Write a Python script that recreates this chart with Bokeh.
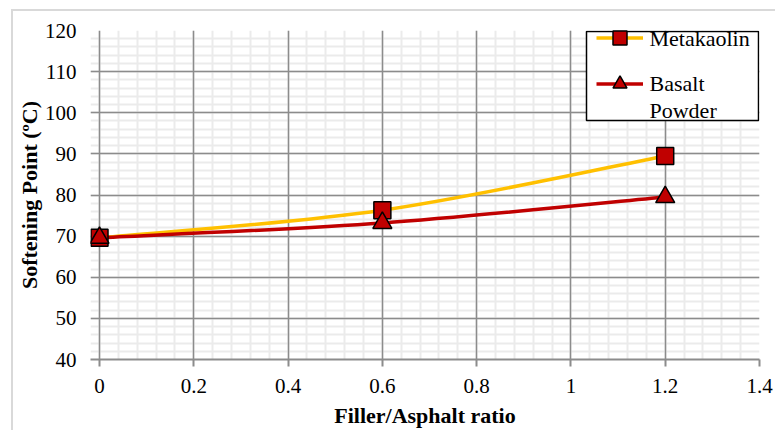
from bokeh.plotting import figure
from bokeh.models import (FixedTicker, Legend, LegendItem, Grid, Label, BoxAnnotation,
                          ColumnDataSource, Range1d)
from bokeh.embed import file_html
from bokeh.resources import INLINE

x_ratio = [0.0, 0.6, 1.2]
metakaolin = [69.6, 76.3, 89.5]
basalt = [69.6, 73.2, 79.5]
x_ticks = [0, 0.2, 0.4, 0.6, 0.8, 1.0, 1.2, 1.4]
y_ticks = [40, 50, 60, 70, 80, 90, 100, 110, 120]
series_labels = ["Metakaolin", "Basalt\nPowder"]

FONT = "'Liberation Serif'"
LABEL_FONT = "Liberation Serif"
YELLOW = "#FFC000"
RED = "#C00000"
GRID = "#8c8c8c"

x_minor = [round(i * 0.04, 2) for i in range(36)]
y_minor = [40 + 2 * i for i in range(41)]

p = figure(width=775, height=430, output_backend="svg", toolbar_location=None,
           x_range=Range1d(-0.0191, 1.4), y_range=Range1d(40, 120),
           min_border_left=90, min_border_right=16, min_border_top=30, min_border_bottom=68)
p.outline_line_color = None
p.background_fill_color = "white"
p.border_fill_color = "white"
p.border_fill_alpha = 0
p.styles = {
    "background-color": "white",
    "background-image": "linear-gradient(#d9d9d9, #d9d9d9), linear-gradient(#d9d9d9, #d9d9d9)",
    "background-size": "100% 2px, 2px 100%",
    "background-position": "12px 9px, 11px 9px",
    "background-repeat": "no-repeat",
}

xt = FixedTicker(ticks=x_ticks, minor_ticks=x_minor)
yt = FixedTicker(ticks=y_ticks, minor_ticks=y_minor)
p.xaxis.ticker = xt
p.yaxis.ticker = yt
p.xaxis.major_label_overrides = {0: "0", 1: "1"}

mx = Grid(dimension=0, ticker=xt, grid_line_color=None,
          minor_grid_line_color="#ebebeb", minor_grid_line_width=2)
my = Grid(dimension=1, ticker=yt, grid_line_color=None,
          minor_grid_line_color="#ebebeb", minor_grid_line_width=2)
for g in (p.xgrid, p.ygrid):
    g.grid_line_color = GRID
    g.grid_line_width = 1.5
    g.minor_grid_line_color = None
p.xgrid.ticker = xt
p.ygrid.ticker = yt
p.center = [mx, my] + list(p.center)

for ax in (p.xaxis, p.yaxis):
    ax.axis_line_color = GRID
    ax.axis_line_width = 2
    ax.major_tick_line_color = GRID
    ax.major_tick_line_width = 2
    ax.major_tick_in = 0
    ax.major_tick_out = 7
    ax.minor_tick_line_color = None
    ax.major_label_text_font = FONT
    ax.major_label_text_font_size = "21px"
    ax.major_label_text_color = "black"
    ax.axis_label_text_font = FONT
    ax.axis_label_text_font_size = "22px"
    ax.axis_label_text_font_style = "bold"
    ax.axis_label_text_color = "black"

p.yaxis.axis_line_color = None
p.yaxis.major_tick_line_color = None
p.yaxis.major_tick_out = 0
p.yaxis.major_label_standoff = 10
p.yaxis.axis_label_standoff = 0
p.xaxis.major_label_standoff = 12
p.xaxis.axis_label_standoff = 7
p.xaxis.axis_label = "Filler/Asphalt ratio"
p.yaxis.axis_label = "Softening Point (ºC)"


def smooth(xs, ys):
    n = len(xs)
    x0, y0, x1, y1, cx0, cy0, cx1, cy1 = [], [], [], [], [], [], [], []
    for i in range(n - 1):
        pxm = xs[max(i - 1, 0)]; pym = ys[max(i - 1, 0)]
        pxp = xs[min(i + 2, n - 1)]; pyp = ys[min(i + 2, n - 1)]
        x0.append(xs[i]); y0.append(ys[i]); x1.append(xs[i + 1]); y1.append(ys[i + 1])
        cx0.append(xs[i] + (xs[i + 1] - pxm) / 6); cy0.append(ys[i] + (ys[i + 1] - pym) / 6)
        cx1.append(xs[i + 1] - (pxp - xs[i]) / 6); cy1.append(ys[i + 1] - (pyp - ys[i]) / 6)
    return dict(x0=x0, y0=y0, x1=x1, y1=y1, cx0=cx0, cy0=cy0, cx1=cx1, cy1=cy1)


cm = p.bezier(source=ColumnDataSource(smooth(x_ratio, metakaolin)), x0="x0", y0="y0", x1="x1", y1="y1",
              cx0="cx0", cy0="cy0", cx1="cx1", cy1="cy1", line_color=YELLOW, line_width=3.5)
cb = p.bezier(source=ColumnDataSource(smooth(x_ratio, basalt)), x0="x0", y0="y0", x1="x1", y1="y1",
              cx0="cx0", cy0="cy0", cx1="cx1", cy1="cy1", line_color=RED, line_width=3.5)
sm = p.scatter(x_ratio, metakaolin, marker="square", size=17, fill_color=RED,
               line_color="black", line_width=1.5)
sb = p.scatter(x_ratio, basalt, marker="triangle", size=19, fill_color=RED,
               line_color="black", line_width=1.5)

# legend box: white fill with black border
p.add_layout(BoxAnnotation(left=586, right=758, top=31, bottom=120,
                           left_units="canvas", right_units="canvas",
                           top_units="canvas", bottom_units="canvas",
                           fill_color="white", fill_alpha=1,
                           line_color="black", line_alpha=1, line_width=1.5))

# legend glyph samples (no text, no box)
legend = Legend(items=[LegendItem(label=" ", renderers=[cm, sm]),
                       LegendItem(label=" ", renderers=[cb, sb])],
                location=(506, 258))
legend.glyph_width = 47
legend.glyph_height = 35
legend.label_height = 35
legend.label_width = 1
legend.label_standoff = 0
legend.padding = 0
legend.margin = 0
legend.spacing = 11
legend.border_line_color = None
legend.background_fill_color = None
legend.background_fill_alpha = 0
p.add_layout(legend, "center")

# legend texts
for lab, ypos in zip(series_labels, [38, 83]):
    for j, line in enumerate(lab.split("\n")):
        p.add_layout(Label(x=649, y=ypos + 27 * j, x_units="canvas", y_units="canvas",
                           text=line, text_font=LABEL_FONT, text_font_size="22px",
                           text_color="black", text_baseline="middle", text_align="left",
                           level="overlay"))

open("out.html", "w").write(file_html(p, INLINE))
